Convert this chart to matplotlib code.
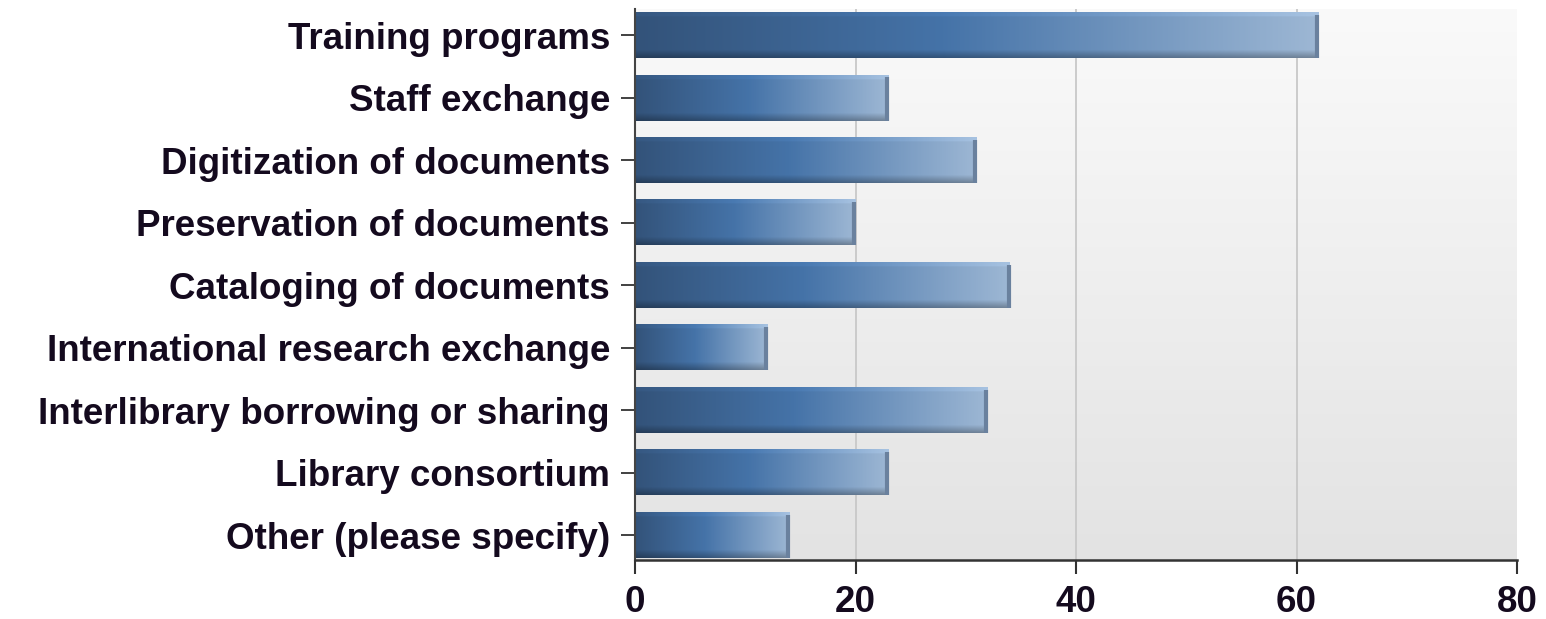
import numpy as np
import matplotlib.pyplot as plt
from matplotlib.colors import LinearSegmentedColormap

categories = ["Training programs", "Staff exchange", "Digitization of documents",
              "Preservation of documents", "Cataloging of documents",
              "International research exchange", "Interlibrary borrowing or sharing",
              "Library consortium", "Other (please specify)"]
values = [62, 23, 31, 20, 34, 12, 32, 23, 14]
xticks = [0, 20, 40, 60, 80]

plt.rcParams['font.family'] = ['Liberation Sans', 'DejaVu Sans']

fig = plt.figure(figsize=(15.46, 6.19), dpi=100)
ax = fig.add_axes([635/1546, 1-560/619, (1517-635)/1546, (560-9)/619])

n = len(categories)
ax.set_xlim(0, 80)
ax.set_ylim(n - 0.6, -0.42)

# background gradient, light at the top, gray at the bottom
bg = np.linspace(0.98, 0.89, 256).reshape(-1, 1)
ax.imshow(np.dstack([bg, bg, bg]), extent=[0, 80, n - 0.6, -0.42], aspect='auto',
          zorder=0, interpolation='bilinear')

for x in xticks[1:-1]:
    ax.axvline(x, color='#c8c8c8', lw=1.3, zorder=1)

bar_cmap = LinearSegmentedColormap.from_list(
    'barblue', [(0, '#33537a'), (0.45, '#4573a8'), (1, '#9db7d4')])
h = 0.73
ramp = bar_cmap(np.linspace(0, 1, 200))[:, :3]
shade = np.concatenate([np.full(6, 1.06), np.ones(46), np.linspace(1, 0.72, 12)])
for i, v in enumerate(values):
    img = np.clip(ramp[None, :, :] * shade[:, None, None], 0, 1)
    ax.imshow(img, extent=[0, v, i + h/2, i - h/2], aspect='auto', zorder=2,
              interpolation='bilinear')
    ax.plot([v - 0.12, v - 0.12], [i - h/2 + 0.04, i + h/2], color='#6a819e',
            lw=3, zorder=3, solid_capstyle='butt')

ax.set_yticks(range(n))
ax.set_yticklabels(categories)
ax.set_xticks(xticks)
for lab in ax.get_yticklabels() + ax.get_xticklabels():
    lab.set_fontweight('bold')
    lab.set_fontsize(26.5)
    lab.set_color('#140a1e')
ax.tick_params(axis='y', length=10, width=1.3, color='#333333', pad=8)
ax.tick_params(axis='x', length=10, width=1.5, color='#333333', pad=8)

for s in ['top', 'right']:
    ax.spines[s].set_visible(False)
ax.spines['left'].set_color('#444444')
ax.spines['left'].set_linewidth(1.5)
ax.spines['bottom'].set_color('#333333')
ax.spines['bottom'].set_linewidth(1.8)

fig.savefig('out.png', dpi=100)
